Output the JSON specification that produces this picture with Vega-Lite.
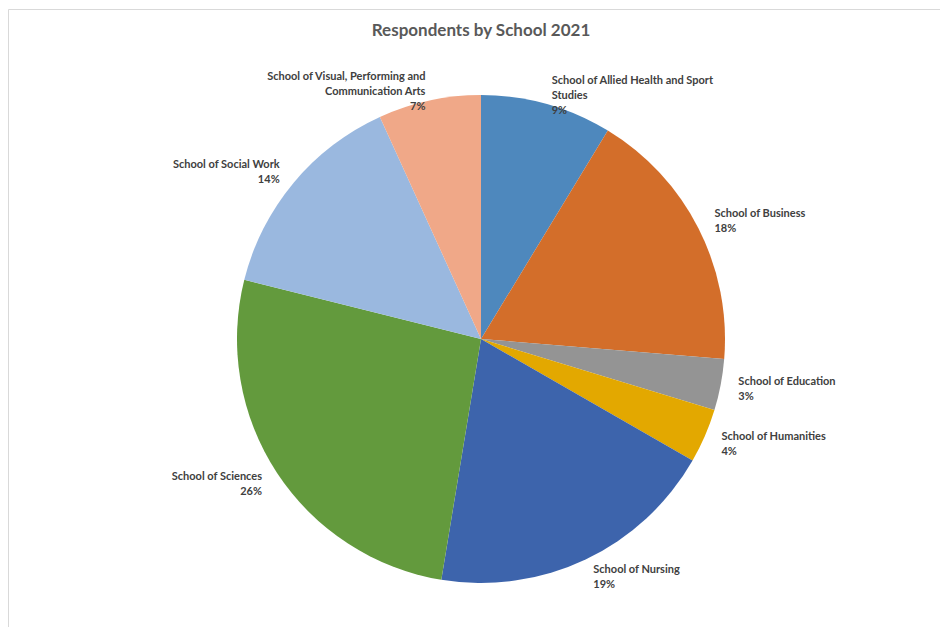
{
  "$schema": "https://vega.github.io/schema/vega-lite/v6.json",
  "autosize": {"type": "none"},
  "width": 946,
  "height": 660,
  "padding": {"left": 8, "top": 9, "right": -14, "bottom": -42},
  "background": "white",
  "view": {"stroke": "#d9d9d9", "strokeWidth": 1, "fill": "white"},
  "title": {
    "text": "Respondents by School 2021",
    "font": "Lato",
    "fontSize": 17,
    "fontWeight": "bold",
    "color": "#595959",
    "anchor": "middle",
    "frame": "group",
    "offset": -31
  },
  "data": {
    "values": [
      {"school": "School of Allied Health and Sport Studies", "share": 8.7, "label": "School of Allied Health and Sport\nStudies\n9%"},
      {"school": "School of Business", "share": 17.6, "label": "School of Business\n18%"},
      {"school": "School of Education", "share": 3.4, "label": "School of Education\n3%"},
      {"school": "School of Humanities", "share": 3.6, "label": "School of Humanities\n4%"},
      {"school": "School of Nursing", "share": 19.3, "label": "School of Nursing\n19%"},
      {"school": "School of Sciences", "share": 26.3, "label": "School of Sciences\n26%"},
      {"school": "School of Social Work", "share": 14.3, "label": "School of Social Work\n14%"},
      {"school": "School of Visual, Performing and Communication Arts", "share": 6.8, "label": "School of Visual, Performing and\nCommunication Arts\n7%"}
    ]
  },
  "layer": [
    {
      "mark": {"type": "arc", "outerRadius": 244, "stroke": null},
      "encoding": {
        "theta": {"field": "share", "type": "quantitative", "stack": true},
        "order": {"field": "school", "sort": "ascending"},
        "color": {
          "field": "school",
          "type": "nominal",
          "legend": null,
          "scale": {
            "domain": [
              "School of Allied Health and Sport Studies",
              "School of Business",
              "School of Education",
              "School of Humanities",
              "School of Nursing",
              "School of Sciences",
              "School of Social Work",
              "School of Visual, Performing and Communication Arts"
            ],
            "range": ["#4E88BD", "#D36E2A", "#949494", "#E3A800", "#3D64AC", "#639A3D", "#9AB8DF", "#F0A888"]
          }
        }
      }
    },
    {
      "mark": {"type": "text", "radius": 262, "dy": -6, "align": "left", "baseline": "middle", "lineBreak": "\n", "lineHeight": 15, "font": "Lato", "fontSize": 11, "fontWeight": "bold", "color": "#404040"},
      "encoding": {
        "theta": {"field": "share", "type": "quantitative", "stack": true},
        "order": {"field": "school", "sort": "ascending"},
        "detail": {"field": "school", "type": "nominal"},
        "text": {"field": "label", "type": "nominal"},
        "opacity": {"condition": {"test": "datum.share_start + datum.share_end < 100", "value": 1}, "value": 0}
      }
    },
    {
      "mark": {"type": "text", "radius": 262, "dy": -6, "align": "right", "baseline": "middle", "lineBreak": "\n", "lineHeight": 15, "font": "Lato", "fontSize": 11, "fontWeight": "bold", "color": "#404040"},
      "encoding": {
        "theta": {"field": "share", "type": "quantitative", "stack": true},
        "order": {"field": "school", "sort": "ascending"},
        "detail": {"field": "school", "type": "nominal"},
        "text": {"field": "label", "type": "nominal"},
        "opacity": {"condition": {"test": "datum.share_start + datum.share_end >= 100", "value": 1}, "value": 0}
      }
    }
  ]
}
